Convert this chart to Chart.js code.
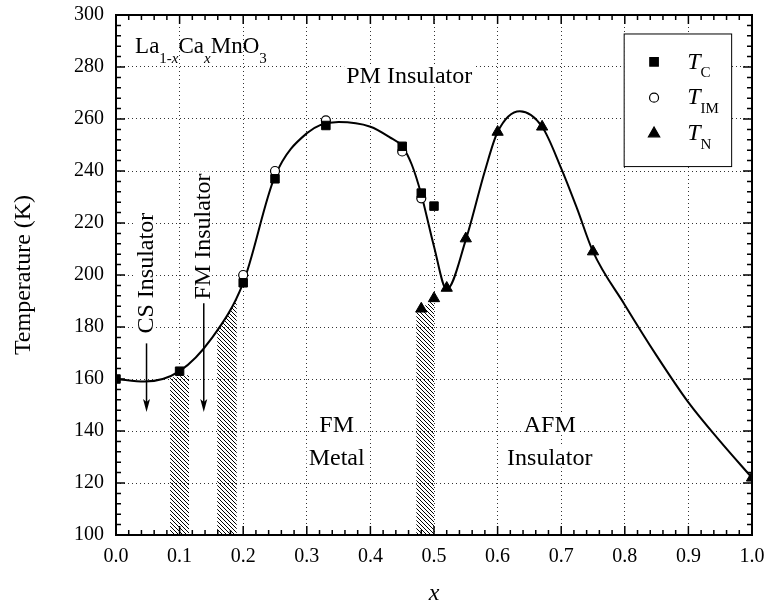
<!DOCTYPE html>
<html>
<head>
<meta charset="utf-8">
<title>La1-xCaxMnO3 phase diagram</title>
<script src="https://cdn.jsdelivr.net/npm/chart.js@4.4.0/dist/chart.umd.min.js"></script>
<style>
  html, body { margin: 0; padding: 0; background: #fff; }
  #wrap { width: 765px; height: 608px; }
</style>
</head>
<body>
<div id="wrap"><canvas id="grafico" width="765" height="608"></canvas></div>
<script>
// values
const tcX = [0.00, 0.10, 0.20, 0.25, 0.33, 0.45, 0.48, 0.50];
const tcY = [160, 163, 197, 237, 257.5, 249.5, 231.5, 226.5];

const timX = [0.20, 0.25, 0.33, 0.45, 0.48];
const timY = [200, 240, 259.5, 247.5, 229.5];

const tnX = [0.48, 0.50, 0.52, 0.55, 0.60, 0.67, 0.75, 1.00];
const tnY = [187, 191, 195, 214, 255, 257, 209, 122];

// guide line drawn through the points
const curveX = [0, 0.045, 0.10, 0.15, 0.20, 0.25, 0.30, 0.35, 0.40, 0.43, 0.45, 0.465, 0.48, 0.50, 0.52, 0.55, 0.58, 0.60, 0.635, 0.67, 0.70, 0.725, 0.75, 0.80, 0.85, 0.90, 0.95, 1.00];
const curveY = [160, 159, 163, 175.5, 197, 238, 254.5, 258.8, 257, 253, 249.5, 242.5, 231, 211, 194.5, 213.5, 240, 255, 263, 257, 241, 225.5, 209, 188.5, 169, 151, 136, 122];

// hatched two-phase bands (x edges and top temperature)
const hatchX = [[0.085, 0.115], [0.159, 0.19], [0.472, 0.50]];
const hatchY = [[160.5, 161.5], [178, 190.5], [186, 190.5]];

const legendSubs = ['C', 'IM', 'N'];

const serif = '"Liberation Serif", "Times New Roman", serif';
const pts = (xs, ys) => xs.map((x, i) => ({ x: x, y: ys[i] }));

let canvas = document.getElementById("grafico");
let ctx0 = canvas.getContext("2d");

// diagonal hatch
const tile = document.createElement("canvas");
tile.width = 4; tile.height = 4;
const tg = tile.getContext("2d");
tg.strokeStyle = "#000";
tg.lineWidth = 1;
tg.beginPath();
tg.moveTo(-1, -1); tg.lineTo(5, 5);
tg.moveTo(-1, 3); tg.lineTo(1, 5);
tg.moveTo(3, -1); tg.lineTo(5, 1);
tg.stroke();
const hatch = ctx0.createPattern(tile, "repeat");

function txt(ctx, s, px, py, size, o) {
  o = o || {};
  ctx.save();
  ctx.translate(px, py);
  if (o.rot) ctx.rotate(o.rot);
  ctx.font = (o.italic ? "italic " : "") + size + "px " + serif;
  ctx.textAlign = o.align || "center";
  ctx.textBaseline = "alphabetic";
  const m = ctx.measureText(s);
  if (o.bg) {
    ctx.fillStyle = "#fff";
    ctx.fillRect(-m.actualBoundingBoxLeft - 2, -m.actualBoundingBoxAscent - 2,
      m.actualBoundingBoxLeft + m.actualBoundingBoxRight + 4,
      m.actualBoundingBoxAscent + m.actualBoundingBoxDescent + 4);
  }
  ctx.fillStyle = "#000";
  ctx.fillText(s, 0, 0);
  ctx.restore();
  return m.width;
}

function marker(ctx, style, r, px, py, fill) {
  ctx.save();
  ctx.beginPath();
  if (style === "rect") {
    const s = r * Math.SQRT1_2;
    ctx.rect(px - s, py - s, 2 * s, 2 * s);
  } else if (style === "triangle") {
    ctx.moveTo(px, py - r);
    ctx.lineTo(px + r * Math.sin(2 * Math.PI / 3), py - r * Math.cos(2 * Math.PI / 3));
    ctx.lineTo(px + r * Math.sin(4 * Math.PI / 3), py - r * Math.cos(4 * Math.PI / 3));
    ctx.closePath();
  } else {
    ctx.arc(px, py, r, 0, Math.PI * 2);
  }
  ctx.fillStyle = fill;
  ctx.strokeStyle = "#000";
  ctx.lineWidth = 1.2;
  ctx.fill();
  ctx.stroke();
  ctx.restore();
}

function arrow(ctx, px, p0, p1) {
  ctx.save();
  ctx.strokeStyle = "#000";
  ctx.fillStyle = "#000";
  ctx.lineWidth = 1.5;
  ctx.beginPath();
  ctx.moveTo(px, p0);
  ctx.lineTo(px, p1 - 10);
  ctx.stroke();
  ctx.beginPath();
  ctx.moveTo(px, p1);
  ctx.lineTo(px - 3.5, p1 - 13);
  ctx.lineTo(px, p1 - 10);
  ctx.lineTo(px + 3.5, p1 - 13);
  ctx.closePath();
  ctx.fill();
  ctx.restore();
}

const decor = {
  id: "decor",
  afterDraw(chart) {
    const ctx = chart.ctx;
    const a = chart.chartArea;
    const sx = chart.scales.x, sy = chart.scales.y;
    const X = v => sx.getPixelForValue(v);
    const Y = v => sy.getPixelForValue(v);

    // frame and inward ticks on all sides
    ctx.save();
    ctx.strokeStyle = "#000";
    ctx.lineWidth = 1.5;
    ctx.beginPath();
    for (let i = 0; i <= 50; i++) {
      const len = i % 5 === 0 ? 9 : 5;
      const px = X(i / 50);
      ctx.moveTo(px, a.bottom); ctx.lineTo(px, a.bottom - len);
      ctx.moveTo(px, a.top); ctx.lineTo(px, a.top + len);
      const py = Y(100 + i * 4);
      ctx.moveTo(a.left, py); ctx.lineTo(a.left + len, py);
      ctx.moveTo(a.right, py); ctx.lineTo(a.right - len, py);
    }
    ctx.stroke();
    ctx.lineWidth = 2;
    ctx.strokeRect(a.left, a.top, a.right - a.left, a.bottom - a.top);
    ctx.restore();

    // region labels
    txt(ctx, "PM Insulator", X(0.461), Y(273.7), 24, { bg: true });
    txt(ctx, "FM", X(0.347), Y(139.7), 24, { bg: true });
    txt(ctx, "Metal", X(0.347), Y(126.9), 24, { bg: true });
    txt(ctx, "AFM", X(0.682), Y(139.7), 24, { bg: true });
    txt(ctx, "Insulator", X(0.682), Y(126.9), 24, { bg: true });
    txt(ctx, "CS Insulator", X(0.0587), Y(200.7), 24, { bg: true, rot: -Math.PI / 2 });
    txt(ctx, "FM Insulator", X(0.148), Y(214.8), 24, { bg: true, rot: -Math.PI / 2 });
    arrow(ctx, X(0.048), Y(173.7), Y(147.3));
    arrow(ctx, X(0.138), Y(189.1), Y(147.3));

    // compound name
    let px = X(0.03);
    const base = Y(285.3);
    px += txt(ctx, "La", px, base, 23, { align: "left" });
    px += txt(ctx, "1-", px, base + 10, 15, { align: "left" });
    px += txt(ctx, "x", px, base + 10, 15, { align: "left", italic: true });
    px += txt(ctx, "Ca", px, base, 23, { align: "left" });
    px += txt(ctx, "x", px, base + 10, 15, { align: "left", italic: true });
    px += txt(ctx, "MnO", px, base, 23, { align: "left" });
    txt(ctx, "3", px, base + 10, 15, { align: "left" });

    // legend box
    const bl = X(0.799), br = X(0.968), bt = Y(292.7), bb = Y(241.7);
    ctx.save();
    ctx.fillStyle = "#fff";
    ctx.fillRect(bl, bt, br - bl, bb - bt);
    ctx.strokeStyle = "#000";
    ctx.lineWidth = 1;
    ctx.strokeRect(bl, bt, br - bl, bb - bt);
    ctx.restore();
    const rows = [282, 268.2, 254.4];
    chart.data.datasets.slice(0, 3).forEach((ds, i) => {
      const py = Y(rows[i]);
      marker(ctx, ds.pointStyle, ds.pointRadius, X(0.846), py, ds.backgroundColor);
      const w = txt(ctx, "T", X(0.898), py + 6.7, 24, { align: "left", italic: true });
      txt(ctx, legendSubs[i], X(0.898) + w, py + 15.6, 15, { align: "left" });
    });

    // axis titles
    txt(ctx, "x", (a.left + a.right) / 2, 600, 24, { italic: true });
    txt(ctx, "Temperature (K)", 30, (a.top + a.bottom) / 2, 24, { rot: -Math.PI / 2 });
  }
};

const hatchSets = hatchX.map((xs, i) => ({
  type: "line",
  data: pts(xs, hatchY[i]),
  borderWidth: 0,
  pointRadius: 0,
  tension: 0,
  fill: "start",
  backgroundColor: hatch
}));

const tickFont = { family: serif, size: 20 };

var chart = new Chart(ctx0, {
  type: "scatter",
  data: {
    datasets: [
      {
        label: "TC",
        data: pts(tcX, tcY),
        pointStyle: "rect",
        pointRadius: 6,
        backgroundColor: "#000",
        borderColor: "#000",
        borderWidth: 1,
        clip: 0
      },
      {
        label: "TIM",
        data: pts(timX, timY),
        pointStyle: "circle",
        pointRadius: 4.5,
        backgroundColor: "#fff",
        borderColor: "#000",
        borderWidth: 1.2,
        clip: 0
      },
      {
        label: "TN",
        data: pts(tnX, tnY),
        pointStyle: "triangle",
        pointRadius: 6.5,
        backgroundColor: "#000",
        borderColor: "#000",
        borderWidth: 1,
        clip: 0
      },
      {
        type: "line",
        label: "guide",
        data: pts(curveX, curveY),
        borderColor: "#000",
        borderWidth: 2,
        pointRadius: 0,
        fill: false,
        cubicInterpolationMode: "monotone"
      }
    ].concat(hatchSets)
  },
  plugins: [decor],
  options: {
    responsive: false,
    animation: false,
    events: [],
    layout: { padding: { left: 0, right: 13, top: 15, bottom: 0 } },
    plugins: { legend: { display: false }, tooltip: { enabled: false } },
    scales: {
      x: {
        type: "linear",
        min: 0,
        max: 1,
        afterFit: s => {
          s.height = 73;
          s.paddingLeft = 0; s.paddingRight = 0;
        },
        ticks: {
          stepSize: 0.1,
          autoSkip: false,
          maxRotation: 0,
          padding: 10,
          color: "#000",
          font: tickFont,
          callback: v => v.toFixed(1)
        },
        grid: { color: "#333", lineWidth: 1, drawTicks: false },
        border: { display: false, dash: [1, 3] }
      },
      y: {
        min: 100,
        max: 300,
        afterFit: s => {
          s.width = 116;
          s.paddingTop = 0; s.paddingBottom = 0;
        },
        ticks: {
          stepSize: 20,
          padding: 12,
          color: "#000",
          font: tickFont
        },
        grid: { color: "#333", lineWidth: 1, drawTicks: false },
        border: { display: false, dash: [1, 3] }
      }
    }
  }
});
</script>
</body>
</html>
